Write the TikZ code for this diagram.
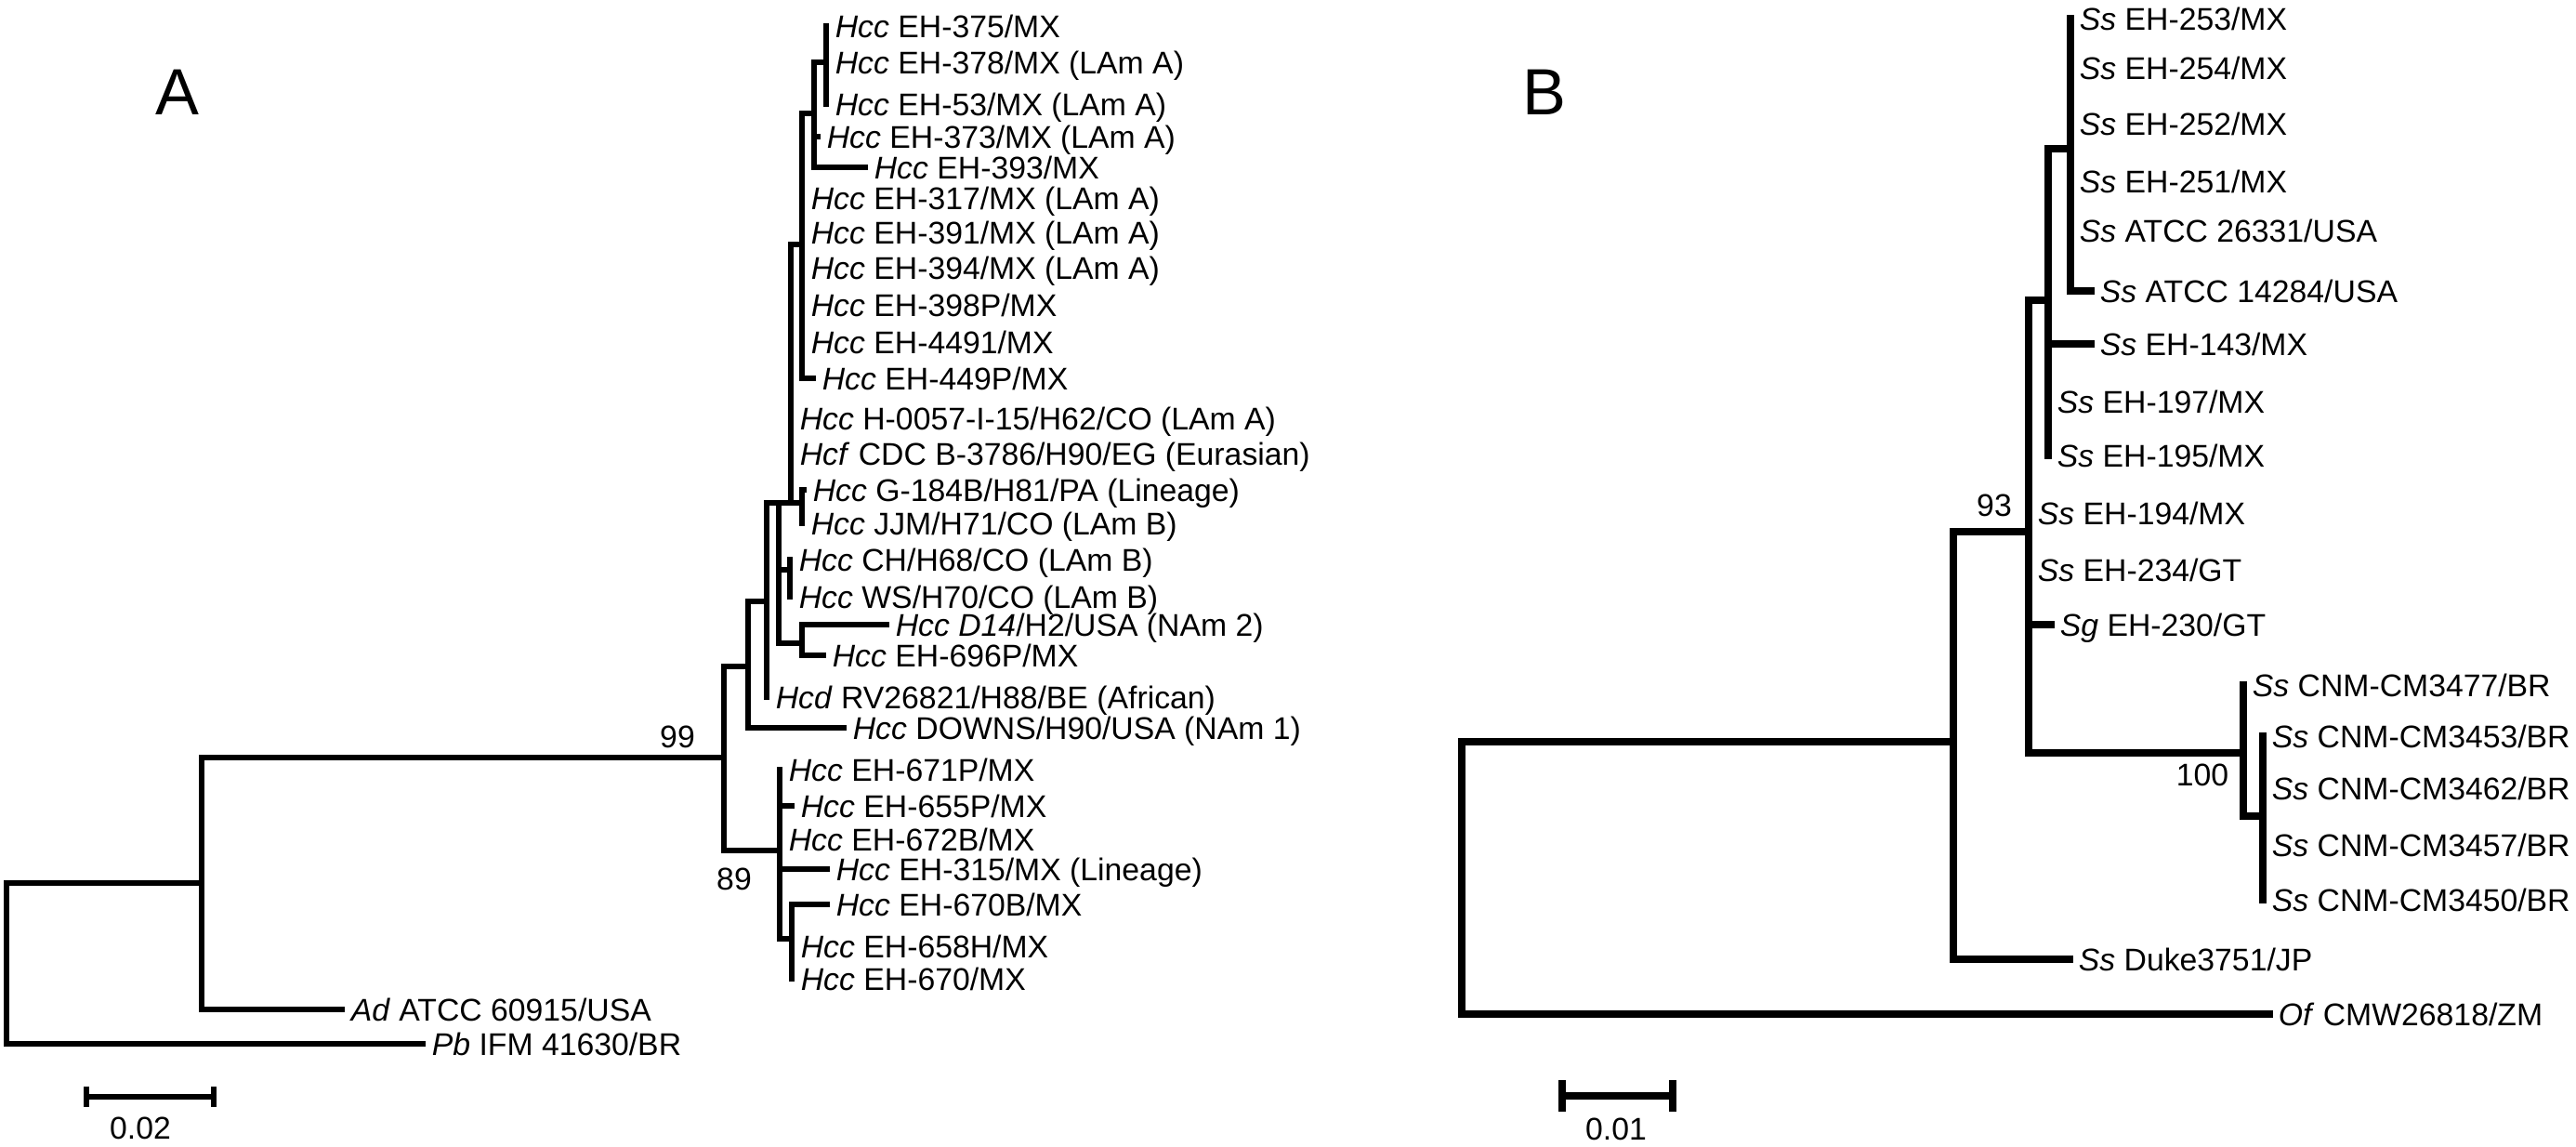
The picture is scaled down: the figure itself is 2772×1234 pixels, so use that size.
\documentclass[tikz,border=0pt]{standalone}
\usepackage{fontspec}
\setmainfont{Liberation Sans}
\usetikzlibrary{positioning}
\newcommand*{\hcc}{\textit{Hcc}}
\newcommand*{\ssp}{\textit{Ss}}

\begin{document}
\begin{tikzpicture}[x=0.01cm,y=-0.01cm,
  br/.style={line width=1.8pt,line cap=rect},
  brb/.style={line width=2.3pt,line cap=rect},
  leaf/.style={anchor=west,inner xsep=2.6pt,inner ysep=0pt,text height=7pt,text depth=0pt,font=\fontsize{9.6}{11}\selectfont},
  boot/.style={inner sep=0pt,text height=7pt,text depth=0pt,font=\fontsize{9.6}{11}\selectfont},
  panel/.style={inner sep=0pt,font=\fontsize{20}{24}\selectfont}]
\useasboundingbox (0,0) rectangle (2772,1234);

% panel A
\node[panel] (la) at (191,99) {A};
\coordinate (ra) at (7,950);   \coordinate (a2) at (217,950);
\coordinate (a99) at (779,815); \coordinate (a7) at (805,717);
\coordinate (a6) at (825,647);  \coordinate (a5) at (838,541);
\coordinate (a4) at (851,541);  \coordinate (a3) at (863,263);
\coordinate (an2) at (876,122); \coordinate (an1) at (889,67);
\coordinate (agj) at (863,541); \coordinate (achws) at (850,613);
\coordinate (ad14n) at (863,692);
\coordinate (a89) at (839,915); \coordinate (a89b) at (852,1010);

\node[leaf] (a375) at (889,28) {\hcc{} EH-375/MX};
\node[leaf] (a378) at (889,67) {\hcc{} EH-378/MX (LAm A)};
\node[leaf] (a53) at (889,112) {\hcc{} EH-53/MX (LAm A)};
\node[leaf] (a373) at (880,147) {\hcc{} EH-373/MX (LAm A)};
\node[leaf] (a393) at (931,180) {\hcc{} EH-393/MX};
\node[leaf] (a317) at (863,213) {\hcc{} EH-317/MX (LAm A)};
\node[leaf] (a391) at (863,250) {\hcc{} EH-391/MX (LAm A)};
\node[leaf] (a394) at (863,288) {\hcc{} EH-394/MX (LAm A)};
\node[leaf] (a398) at (863,328) {\hcc{} EH-398P/MX};
\node[leaf] (a4491) at (863,368) {\hcc{} EH-4491/MX};
\node[leaf] (a449) at (875,407) {\hcc{} EH-449P/MX};
\node[leaf] (a0057) at (851,450) {\hcc{} H-0057-I-15/H62/CO (LAm A)};
\node[leaf] (acdc) at (851,488) {\textit{Hcf} CDC B-3786/H90/EG (Eurasian)};
\node[leaf] (ag184) at (865,527) {\hcc{} G-184B/H81/PA (Lineage)};
\node[leaf] (ajjm) at (863,563) {\hcc{} JJM/H71/CO (LAm B)};
\node[leaf] (ach) at (850,602) {\hcc{} CH/H68/CO (LAm B)};
\node[leaf] (aws) at (850,642) {\hcc{} WS/H70/CO (LAm B)};
\node[leaf] (ad14) at (954,672) {\textit{Hcc D14}/H2/USA (NAm 2)};
\node[leaf] (a696) at (886,705) {\hcc{} EH-696P/MX};
\node[leaf] (ahcd) at (825,750) {\textit{Hcd} RV26821/H88/BE (African)};
\node[leaf] (adowns) at (908,783) {\hcc{} DOWNS/H90/USA (NAm 1)};
\node[leaf] (a671) at (839,828) {\hcc{} EH-671P/MX};
\node[leaf] (a655) at (852,867) {\hcc{} EH-655P/MX};
\node[leaf] (a672) at (839,903) {\hcc{} EH-672B/MX};
\node[leaf] (a315) at (890,935) {\hcc{} EH-315/MX (Lineage)};
\node[leaf] (a670b) at (890,973) {\hcc{} EH-670B/MX};
\node[leaf] (a658) at (852,1018) {\hcc{} EH-658H/MX};
\node[leaf] (a670) at (852,1053) {\hcc{} EH-670/MX};
\node[leaf] (ad) at (368,1086) {\textit{Ad} ATCC 60915/USA};
\node[leaf] (pb) at (455,1123) {\textit{Pb} IFM 41630/BR};

\draw[br] (ra) -- (a2); \draw[br] (ra) |- (pb);
\draw[br] (a2) |- (a99); \draw[br] (a2) |- (ad);
\draw[br] (a99) |- (a7); \draw[br] (a99) |- (a89);
\draw[br] (a7) |- (a6); \draw[br] (a7) |- (adowns);
\draw[br] (a6) |- (a5); \draw[br] (a6) |- (ahcd);
\draw[br] (a5) -- (a4); \draw[br] (a5) |- (achws); \draw[br] (a5) |- (ad14n);
\foreach \c in {a3,a0057,acdc,agj} \draw[br] (a4) |- (\c);
\foreach \c in {ag184,ajjm} \draw[br] (agj) |- (\c);
\foreach \c in {ach,aws} \draw[br] (achws) |- (\c);
\foreach \c in {ad14,a696} \draw[br] (ad14n) |- (\c);
\foreach \c in {an2,a317,a391,a394,a398,a4491,a449} \draw[br] (a3) |- (\c);
\foreach \c in {an1,a373,a393} \draw[br] (an2) |- (\c);
\foreach \c in {a375,a378,a53} \draw[br] (an1) |- (\c);
\foreach \c in {a671,a655,a672,a315,a89b} \draw[br] (a89) |- (\c);
\foreach \c in {a670b,a658,a670} \draw[br] (a89b) |- (\c);

\node[boot] (bs99) at (729,792) {99};
\node[boot] (bs89) at (790,945) {89};

\coordinate (sa1) at (93,1180); \coordinate (sa2) at (230,1180);
\draw[br] (sa1) -- (sa2) (sa1) ++(0,-8) -- ++(0,16) (sa2) ++(0,-8) -- ++(0,16);
\node[boot] (sca) at (151,1213) {0.02};

% panel B
\node[panel] (lb) at (1662,99) {B};
\coordinate (rb) at (1573,798);  \coordinate (b1) at (2102,798);
\coordinate (b93) at (2183,572); \coordinate (b2) at (2204,323);
\coordinate (b3) at (2228,160);  \coordinate (b100) at (2414,810);
\coordinate (b100b) at (2435,878);

\node[leaf] (b253) at (2228,20) {\ssp{} EH-253/MX};
\node[leaf] (b254) at (2228,73) {\ssp{} EH-254/MX};
\node[leaf] (b252) at (2228,133) {\ssp{} EH-252/MX};
\node[leaf] (b251) at (2228,195) {\ssp{} EH-251/MX};
\node[leaf] (b26331) at (2228,248) {\ssp{} ATCC 26331/USA};
\node[leaf] (b14284) at (2250,313) {\ssp{} ATCC 14284/USA};
\node[leaf] (b143) at (2250,370) {\ssp{} EH-143/MX};
\node[leaf] (b197) at (2204,432) {\ssp{} EH-197/MX};
\node[leaf] (b195) at (2204,490) {\ssp{} EH-195/MX};
\node[leaf] (b194) at (2183,552) {\ssp{} EH-194/MX};
\node[leaf] (b234) at (2183,613) {\ssp{} EH-234/GT};
\node[leaf] (b230) at (2207,672) {\textit{Sg} EH-230/GT};
\node[leaf] (b3477) at (2414,737) {\ssp{} CNM-CM3477/BR};
\node[leaf] (b3453) at (2435,792) {\ssp{} CNM-CM3453/BR};
\node[leaf] (b3462) at (2435,848) {\ssp{} CNM-CM3462/BR};
\node[leaf] (b3457) at (2435,909) {\ssp{} CNM-CM3457/BR};
\node[leaf] (b3450) at (2435,968) {\ssp{} CNM-CM3450/BR};
\node[leaf] (bduke) at (2227,1032) {\ssp{} Duke3751/JP};
\node[leaf] (bof) at (2442,1091) {\textit{Of} CMW26818/ZM};

\draw[brb] (rb) -- (b1); \draw[brb] (rb) |- (bof);
\draw[brb] (b1) |- (b93); \draw[brb] (b1) |- (bduke);
\foreach \c in {b2,b194,b234,b230,b100} \draw[brb] (b93) |- (\c);
\foreach \c in {b3,b143,b197,b195} \draw[brb] (b2) |- (\c);
\foreach \c in {b253,b254,b252,b251,b26331,b14284} \draw[brb] (b3) |- (\c);
\foreach \c in {b3477,b100b} \draw[brb] (b100) |- (\c);
\foreach \c in {b3453,b3462,b3457,b3450} \draw[brb] (b100b) |- (\c);

\node[boot] (bs93) at (2146,543) {93};
\node[boot] (bs100) at (2370,833) {100};

\coordinate (sb1) at (1681,1179); \coordinate (sb2) at (1800,1179);
\draw[brb] (sb1) -- (sb2) (sb1) ++(0,-13) -- ++(0,26) (sb2) ++(0,-13) -- ++(0,26);
\node[boot] (scb) at (1739,1214) {0.01};
\end{tikzpicture}
\end{document}
